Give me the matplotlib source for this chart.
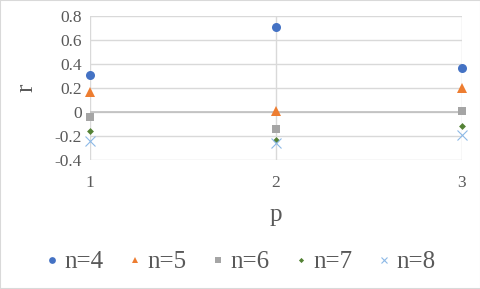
import matplotlib.pyplot as plt

p = [1, 2, 3]
r_n4 = [0.31, 0.71, 0.37]
r_n5 = [0.17, 0.01, 0.20]
r_n6 = [-0.04, -0.145, 0.01]
r_n7 = [-0.16, -0.23, -0.115]
r_n8 = [-0.24, -0.26, -0.19]
labels = ["n=4", "n=5", "n=6", "n=7", "n=8"]

plt.rcParams['font.family'] = ['Liberation Serif', 'DejaVu Serif']

fig = plt.figure(figsize=(4.81, 2.89), dpi=100)
fig.patches.append(plt.Rectangle((0, 0), 1, 1, transform=fig.transFigure,
                                 fill=False, edgecolor="#d9d9d9", lw=1.5))
ax = fig.add_axes([0.187, 0.446, 0.773, 0.499])

styles = [
    (r_n4, "o", "#4472C4", 6.5),
    (r_n5, "^", "#ED7D31", 6.5),
    (r_n6, "s", "#A5A5A5", 6),
    (r_n7, "D", "#548235", 3.5),
    (r_n8, "x", "#8DB9E6", 6.5),
]
for (vals, m, c, ms), lab in zip(styles, labels):
    ax.plot(p, vals, linestyle="none", marker=m, color=c, markersize=ms,
            markeredgewidth=0.8 if m == "x" else 0, label=lab, clip_on=False, zorder=3)

ax.set_xlim(1, 3)
ax.set_ylim(-0.4, 0.8)
ax.set_xticks(p)
ax.set_yticks([-0.4, -0.2, 0, 0.2, 0.4, 0.6, 0.8])
ax.set_yticklabels(["-0.4", "-0.2", "0", "0.2", "0.4", "0.6", "0.8"])
ax.grid(True, color="#d9d9d9", lw=1)
ax.axhline(0, color="#bfbfbf", lw=1.2, zorder=2)
for s in ax.spines.values():
    s.set_visible(False)
ax.tick_params(length=0, labelsize=12.5, colors="#595959", pad=6)
ax.tick_params(axis="x", pad=11)
ax.set_xlabel("p", fontsize=18, color="#595959", labelpad=9)
ax.set_ylabel("r", fontsize=18, color="#595959", labelpad=12)

fig.legend(loc="center", bbox_to_anchor=(0.5, 0.093), ncol=5, frameon=False,
           fontsize=18, markerscale=0.75, handlelength=0.5, handletextpad=0.25,
           columnspacing=1.0, labelcolor="#595959")

fig.savefig("out.png", dpi=100)
